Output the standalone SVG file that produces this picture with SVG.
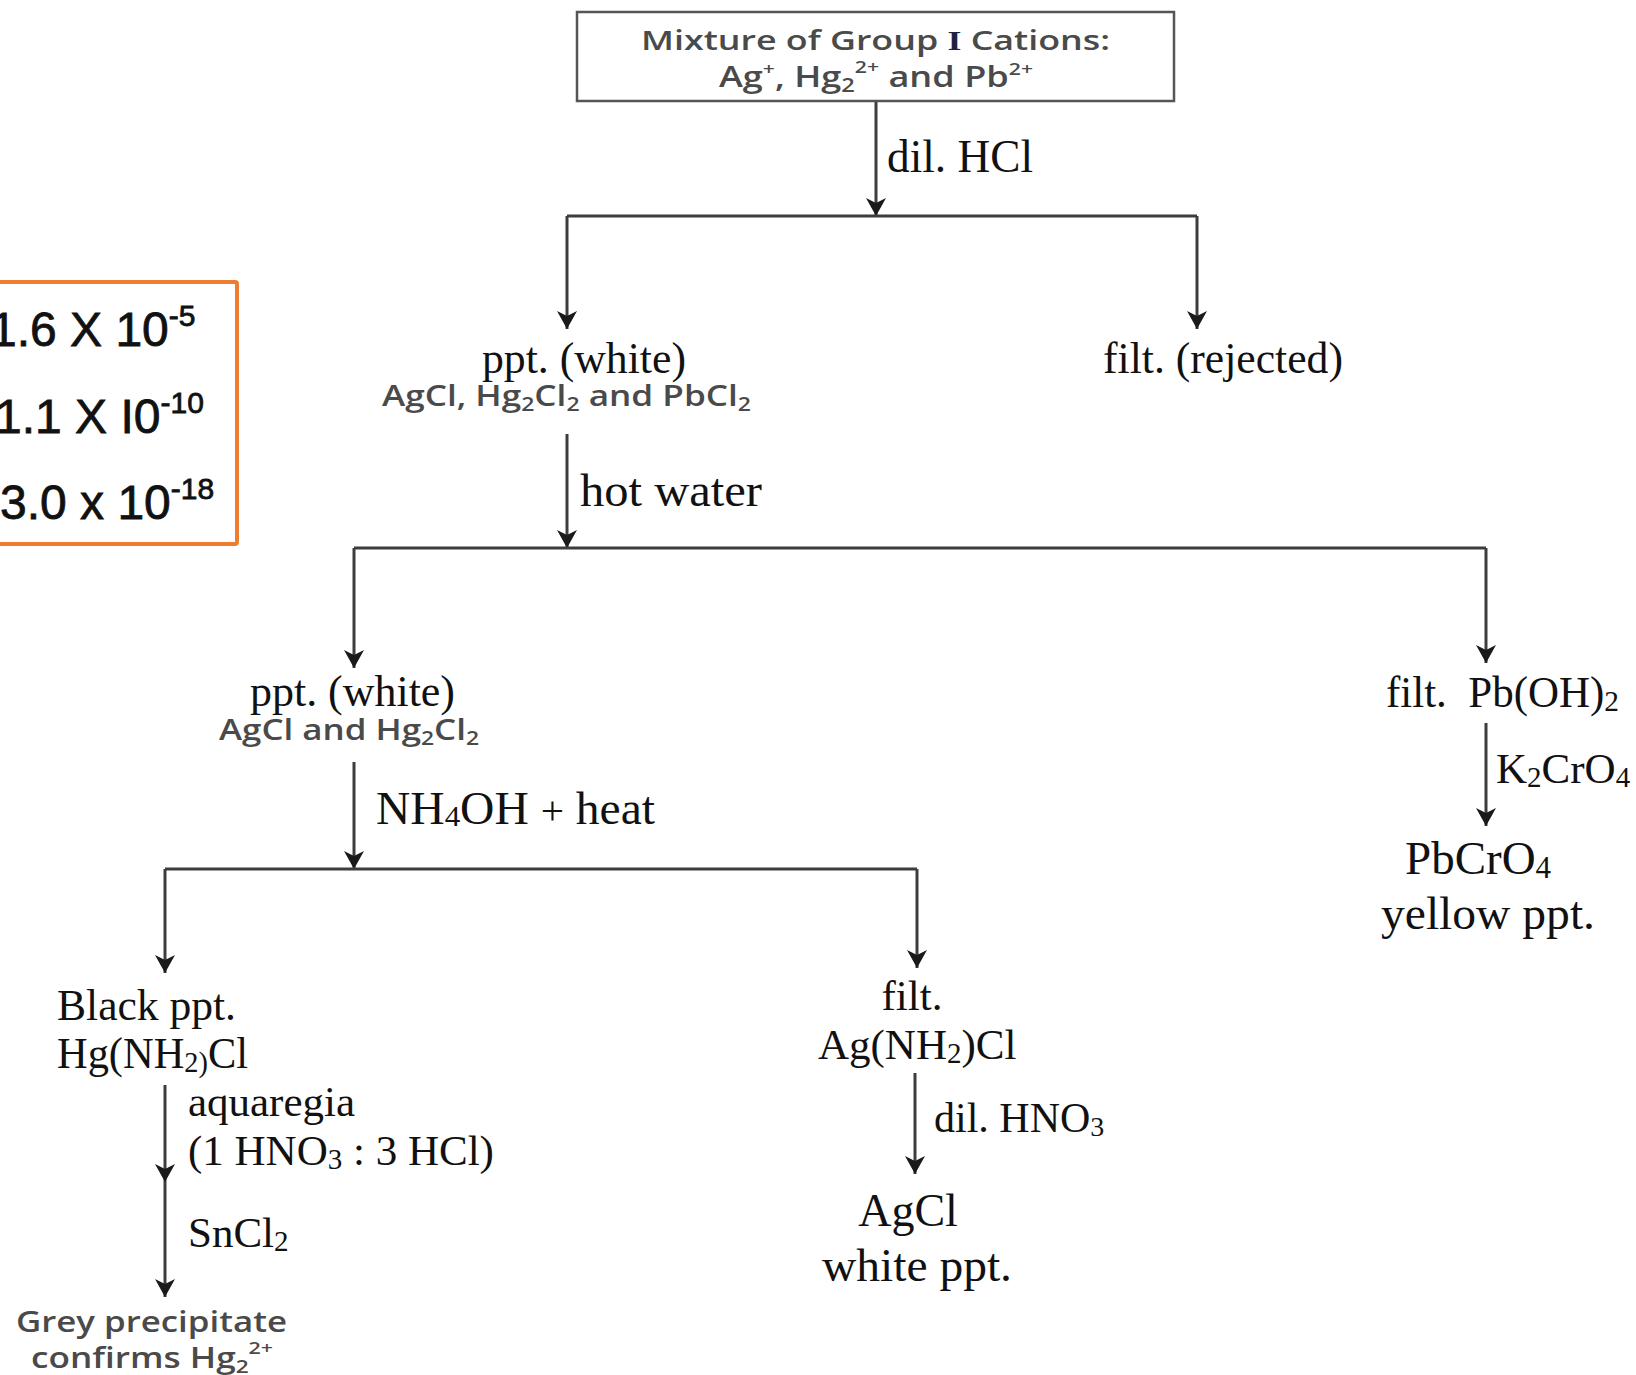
<svg xmlns="http://www.w3.org/2000/svg" width="1636" height="1375" viewBox="0 0 1636 1375">
<defs>
<style>
.ln{stroke:#3d3d3d;stroke-width:3;fill:none}
.lna{stroke:#3d3d3d;stroke-width:3;fill:none;marker-end:url(#ah)}
.t{font-family:"Liberation Serif","Times New Roman",serif;fill:#111}
.s{font-family:"Open Sans","Noto Sans",sans-serif;font-weight:600;fill:#4a4a4a}
.a{font-family:"Liberation Sans",Arial,sans-serif;fill:#111;stroke:#111;stroke-width:0.8}
</style>
<marker id="ah" viewBox="-19 -11 20 22" refX="0" refY="0" markerWidth="20" markerHeight="22" orient="auto" markerUnits="userSpaceOnUse">
<path d="M-18,-10 L0,0 L-18,10 L-13,0 Z" fill="#1a1a1a"/>
</marker>
</defs>
<rect width="1636" height="1375" fill="#ffffff"/>

<g id="connectors">
<path class="lna" d="M876 101 V216"/>
<path class="ln" d="M567 216 H1197"/>
<path class="lna" d="M567 216 V329"/>
<path class="lna" d="M1197 216 V329"/>
<path class="lna" d="M567 434 V548"/>
<path class="ln" d="M354 548 H1486"/>
<path class="lna" d="M354 548 V668"/>
<path class="lna" d="M1486 548 V663"/>
<path class="lna" d="M1486 723 V826"/>
<path class="lna" d="M354 762 V869"/>
<path class="ln" d="M165 869 H917"/>
<path class="lna" d="M165 869 V973"/>
<path class="lna" d="M917 869 V968"/>
<path class="lna" d="M165 1085 V1182"/>
<path class="lna" d="M165 1182 V1297"/>
<path class="lna" d="M915 1073 V1174"/>
</g>

<g id="ksp-box">
<rect x="-10" y="282" width="247" height="262" fill="none" stroke="#ED7D31" stroke-width="4" rx="2"/>
<text class="a" x="-10" y="346" font-size="48">1.6 X 10<tspan font-size="30" dy="-20">-5</tspan></text>
<text class="a" x="-5" y="433" font-size="48">1.1 X I0<tspan font-size="30" dy="-20">-10</tspan></text>
<text class="a" x="0" y="519" font-size="48">3.0 x 10<tspan font-size="30" dy="-20">-18</tspan></text>
</g>

<g id="n-mixture">
<rect x="577" y="12" width="597" height="89" fill="#ffffff" stroke="#555" stroke-width="2.5"/>
<text class="s" x="641" y="50" font-size="27" textLength="469" lengthAdjust="spacingAndGlyphs">Mixture of Group <tspan font-family="Liberation Serif,serif" font-weight="bold" fill="#1c2340">I</tspan> Cations:</text>
<text class="s" x="719" y="87" font-size="29" textLength="314" lengthAdjust="spacingAndGlyphs">Ag<tspan font-size="17" dy="-12">+</tspan><tspan dy="12">, Hg</tspan><tspan font-size="19" dy="5">2</tspan><tspan font-size="17" dy="-19">2+</tspan><tspan dy="14"> and Pb</tspan><tspan font-size="17" dy="-12">2+</tspan></text>
</g>

<g id="l-dilhcl"><text class="t" x="887" y="172" font-size="46" textLength="146" lengthAdjust="spacingAndGlyphs">dil. HCl</text></g>

<g id="n-ppt1">
<text class="t" x="482" y="373" font-size="44" textLength="204" lengthAdjust="spacingAndGlyphs">ppt. (white)</text>
<text class="s" x="382" y="406" font-size="29" textLength="369" lengthAdjust="spacingAndGlyphs">AgCl, Hg<tspan font-size="19" dy="5">2</tspan><tspan dy="-5">Cl</tspan><tspan font-size="19" dy="5">2</tspan><tspan dy="-5"> and PbCl</tspan><tspan font-size="19" dy="5">2</tspan></text>
</g>

<g id="n-filt-rejected">
<text class="t" x="1103" y="373" font-size="44" textLength="240" lengthAdjust="spacingAndGlyphs">filt. (rejected)</text>
</g>

<g id="l-hotwater"><text class="t" x="580" y="506" font-size="47" textLength="182" lengthAdjust="spacingAndGlyphs">hot water</text></g>

<g id="n-ppt2">
<text class="t" x="250" y="706" font-size="44" textLength="205" lengthAdjust="spacingAndGlyphs">ppt. (white)</text>
<text class="s" x="219" y="740" font-size="29" textLength="260" lengthAdjust="spacingAndGlyphs">AgCl and Hg<tspan font-size="19" dy="5">2</tspan><tspan dy="-5">Cl</tspan><tspan font-size="19" dy="5">2</tspan></text>
</g>

<g id="l-nh4oh"><text class="t" x="376" y="824" font-size="46" textLength="279" lengthAdjust="spacingAndGlyphs">NH<tspan font-size="30" dy="2">4</tspan><tspan dy="-2">OH </tspan><tspan font-size="40">+</tspan> heat</text></g>

<g id="n-filt-pboh">
<text class="t" x="1386" y="707" font-size="44" textLength="233" lengthAdjust="spacingAndGlyphs">filt.&#160; Pb(OH)<tspan font-size="30" dy="4">2</tspan></text>
</g>

<g id="l-k2cro4"><text class="t" x="1496" y="783" font-size="43">K<tspan font-size="29" dy="4">2</tspan><tspan dy="-4">CrO</tspan><tspan font-size="29" dy="4">4</tspan></text></g>

<g id="n-pbcro4">
<text class="t" x="1405" y="874" font-size="47">PbCrO<tspan font-size="31" dy="4">4</tspan></text>
<text class="t" x="1381" y="929" font-size="47" textLength="214" lengthAdjust="spacingAndGlyphs">yellow ppt.</text>
</g>

<g id="n-black">
<text class="t" x="57" y="1020" font-size="45" textLength="179" lengthAdjust="spacingAndGlyphs">Black ppt.</text>
<text class="t" x="57" y="1068" font-size="45" textLength="191" lengthAdjust="spacingAndGlyphs">Hg(NH<tspan font-size="30" dy="4">2)</tspan><tspan dy="-4">Cl</tspan></text>
</g>

<g id="l-aquaregia">
<text class="t" x="188" y="1116" font-size="43" textLength="167" lengthAdjust="spacingAndGlyphs">aquaregia</text>
<text class="t" x="188" y="1165" font-size="43">(1 HNO<tspan font-size="29" dy="4">3</tspan><tspan dy="-4"> : 3 HCl)</tspan></text>
</g>

<g id="l-sncl2"><text class="t" x="188" y="1247" font-size="43">SnCl<tspan font-size="29" dy="4">2</tspan></text></g>

<g id="n-grey">
<text class="s" x="16" y="1332" font-size="28" textLength="271" lengthAdjust="spacingAndGlyphs">Grey precipitate</text>
<text class="s" x="31" y="1368" font-size="28" textLength="242" lengthAdjust="spacingAndGlyphs">confirms Hg<tspan font-size="18" dy="5">2</tspan><tspan font-size="17" dy="-19">2+</tspan></text>
</g>

<g id="n-filt-ag">
<text class="t" x="912" y="1010" font-size="43" text-anchor="middle">filt.</text>
<text class="t" x="818" y="1059" font-size="43">Ag(NH<tspan font-size="29" dy="4">2</tspan><tspan dy="-4">)Cl</tspan></text>
</g>

<g id="l-dilhno3"><text class="t" x="934" y="1132" font-size="42">dil. HNO<tspan font-size="28" dy="4">3</tspan></text></g>

<g id="n-agcl">
<text class="t" x="908" y="1226" font-size="46" text-anchor="middle">AgCl</text>
<text class="t" x="822" y="1281" font-size="47" textLength="190" lengthAdjust="spacingAndGlyphs">white ppt.</text>
</g>
</svg>
